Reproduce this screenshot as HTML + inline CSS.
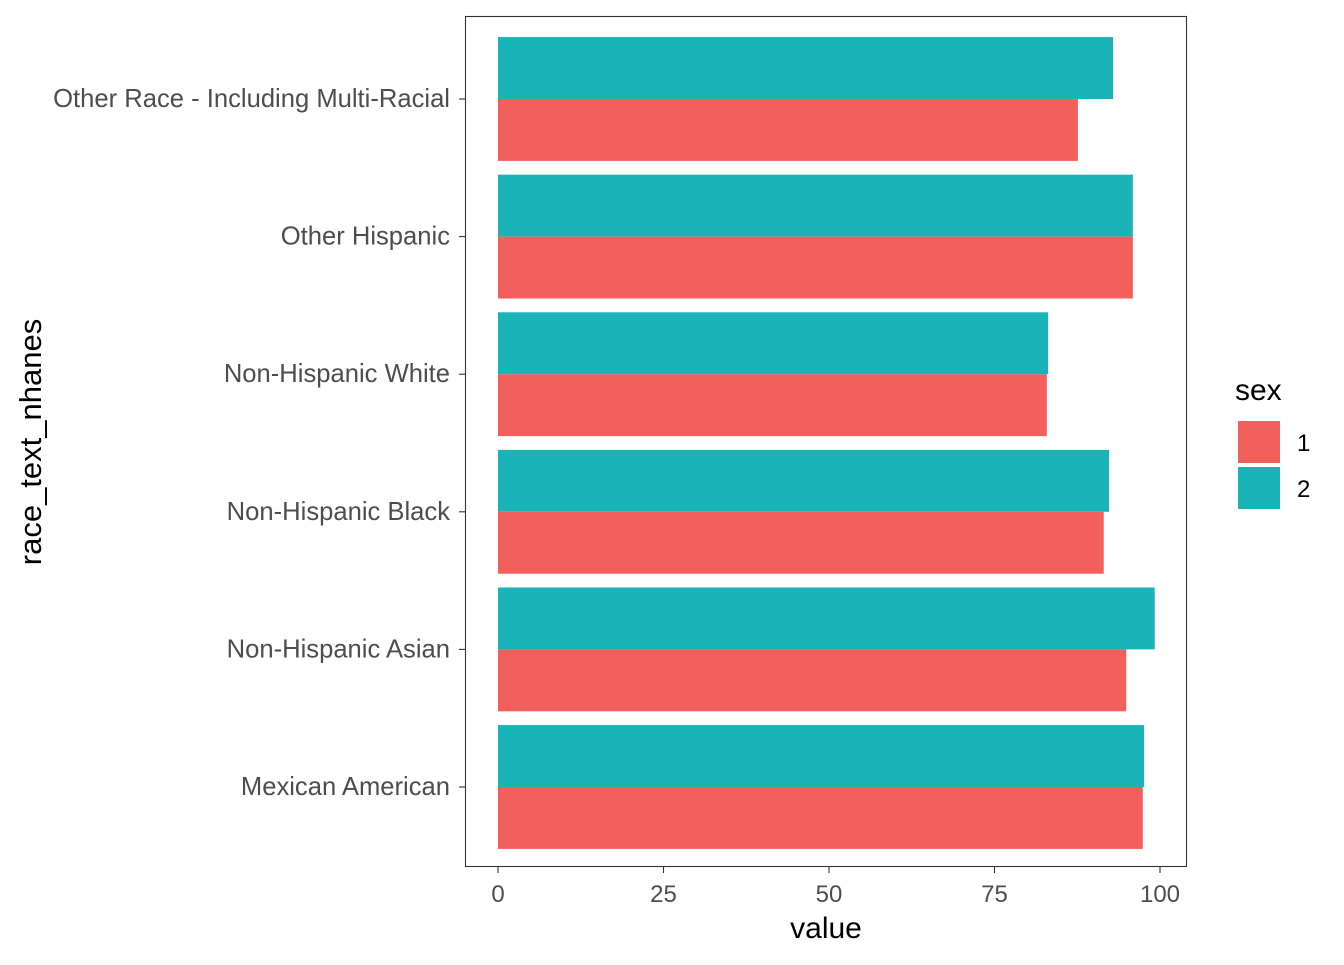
<!DOCTYPE html>
<html><head><meta charset="utf-8"><style>
body{margin:0;background:#fff;font-family:"Liberation Sans",Arial,sans-serif}
</style></head><body>
<svg width="1344" height="960" xmlns="http://www.w3.org/2000/svg" id="chart">
<rect width="1344" height="960" fill="#fff"/>
<g id="bars"></g>
<rect x="465.5" y="16.5" width="721" height="850" fill="none" stroke="#333" stroke-width="1.1"/>
<g id="axes"></g>
<text x="826" y="938" font-size="30" text-anchor="middle" fill="#000">value</text>
<text transform="translate(41,442) rotate(-90)" font-size="31" text-anchor="middle" fill="#000">race_text_nhanes</text>
<g>
<text x="1235" y="400" font-size="30">sex</text>
<rect x="1238" y="421" width="42" height="42" fill="#F35F5B"/>
<rect x="1238" y="467" width="42" height="42" fill="#1AB3B8"/>
<text x="1297" y="451" font-size="24" fill="#000">1</text>
<text x="1297" y="497" font-size="24" fill="#000">2</text>
</g>
</svg>
<script>
const categories=["Mexican American","Non-Hispanic Asian","Non-Hispanic Black","Non-Hispanic White","Other Hispanic","Other Race - Including Multi-Racial"];
const sex1=[97.4,94.9,91.5,82.9,95.9,87.6];
const sex2=[97.6,99.2,92.3,83.1,95.9,92.9];
const xTicks=[0,25,50,75,100];
const ns="http://www.w3.org/2000/svg";
const x=v=>498+v*6.62;
const yc=i=>787-i*137.6;
const bw=137.6*0.9/2;
const bars=document.getElementById('bars'),axes=document.getElementById('axes');
function mk(t,a,p){const e=document.createElementNS(ns,t);for(const k in a)e.setAttribute(k,a[k]);p.appendChild(e);return e;}
categories.forEach((c,i)=>{
 const r=mk('rect',{x:x(0),y:yc(i),width:x(sex1[i])-x(0),height:bw,fill:'#F35F5B'},bars);
 
 
 const t=mk('rect',{x:x(0),y:yc(i)-bw,width:x(sex2[i])-x(0),height:bw,fill:'#1AB3B8'},bars);
 
 
 const tk=mk('line',{x1:459,x2:465,y1:yc(i),y2:yc(i),stroke:'#333','stroke-width':1.1},axes);
 
 
 const l=mk('text',{x:450,y:yc(i)+8,'font-size':25.6,'text-anchor':'end',fill:'#4d4d4d'},axes);
 l.textContent=c;
 
 
});
xTicks.forEach(v=>{
 const tk=mk('line',{x1:x(v),x2:x(v),y1:867,y2:873,stroke:'#333','stroke-width':1.1},axes);
 
 
 const l=mk('text',{x:x(v),y:902,'font-size':24,'text-anchor':'middle',fill:'#4d4d4d'},axes);
 l.textContent=v;
 
 
});
</script>
</body></html>
